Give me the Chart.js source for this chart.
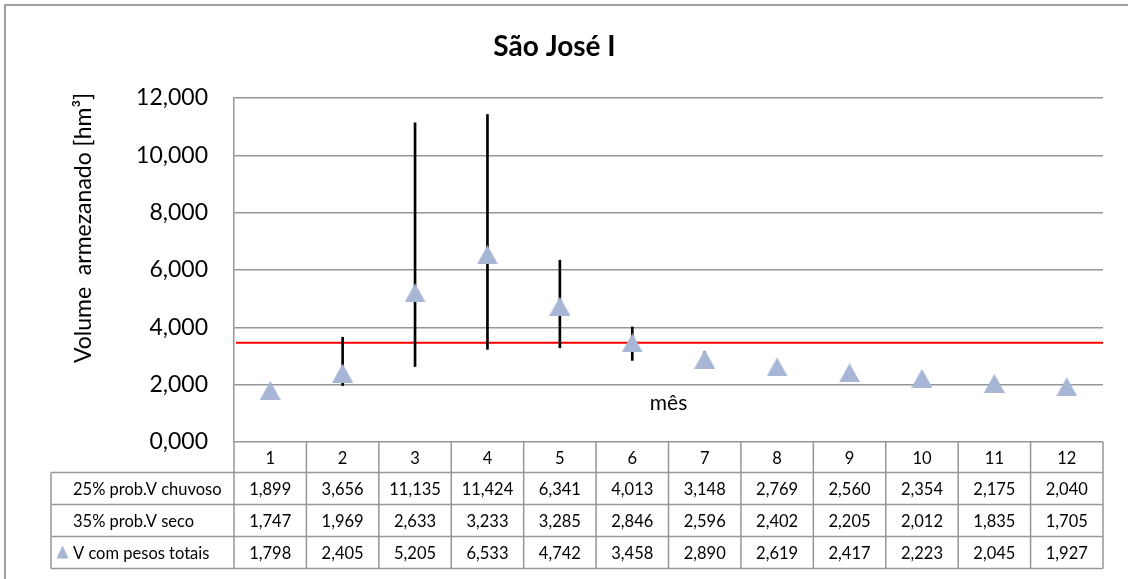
<!doctype html>
<head>
<style>
* {
    box-sizing: border-box;
    margin: 0;
    padding: 0;
}
body {
    background: white;
}
#wrap {
    position: relative;
    width: 1128px;
    height: 579px;
}
</style>
</head>
<div id="wrap"><canvas></canvas></div>
<script src="https://cdn.jsdelivr.net/npm/chart.js"></script>
<script>

let meses = ['1', '2', '3', '4', '5', '6', '7', '8', '9', '10', '11', '12']
let chuvoso = [1.899, 3.656, 11.135, 11.424, 6.341, 4.013, 3.148, 2.769, 2.560, 2.354, 2.175, 2.040]
let seco = [1.747, 1.969, 2.633, 3.233, 3.285, 2.846, 2.596, 2.402, 2.205, 2.012, 1.835, 1.705]
let pesos = [1.798, 2.405, 5.205, 6.533, 4.742, 3.458, 2.890, 2.619, 2.417, 2.223, 2.045, 1.927]
let limite = 3.46

let nomes = ['25% prob.V chuvoso', '35% prob.V seco', 'V com pesos totais']
let linhas = [chuvoso, seco, pesos]

let FONT = 'Lato, "Open Sans", sans-serif'
let GRID = '#969696'
let TRI = '#a6b6d4'

function fmt(v) {
    return v.toFixed(3).replace('.', ',')
}

// triangle marker centred on its box, like Excel does
function triangulo(w, h) {
    let c = document.createElement('canvas')
    c.width = w
    c.height = h
    let g = c.getContext('2d')
    g.fillStyle = TRI
    g.beginPath()
    g.moveTo(w / 2, 0)
    g.lineTo(w, h)
    g.lineTo(0, h)
    g.closePath()
    g.fill()
    return c
}

let extras = {
    id: 'extras',
    beforeDatasetsDraw(chart) {
        let {ctx, chartArea: a, scales: {y}} = chart
        let py = y.getPixelForValue(limite)
        ctx.save()
        ctx.strokeStyle = '#ff0000'
        ctx.lineWidth = 2
        ctx.beginPath()
        ctx.moveTo(a.left + 2, py)
        ctx.lineTo(a.right, py)
        ctx.stroke()
        ctx.restore()
    },
    afterDraw(chart) {
        let {ctx, chartArea: a, scales: {x}} = chart
        ctx.save()

        // outer border (cropped on right and bottom)
        ctx.strokeStyle = '#a0a0a0'
        ctx.lineWidth = 2
        ctx.beginPath()
        ctx.moveTo(5, chart.height)
        ctx.lineTo(5, 5)
        ctx.lineTo(chart.width, 5)
        ctx.stroke()

        // y title
        ctx.fillStyle = '#000'
        ctx.font = '23px ' + FONT
        ctx.textAlign = 'center'
        ctx.textBaseline = 'middle'
        ctx.save()
        ctx.translate(84, 228)
        ctx.rotate(-Math.PI / 2)
        ctx.fillText('Volume  armezanado [hm³]', 0, 0)
        ctx.restore()

        // x title
        ctx.font = '21px ' + FONT
        ctx.fillText('mês', (a.left + a.right) / 2, a.bottom - 39)

        // data table
        let step = (a.right - a.left) / meses.length
        let hdr = 30.5
        let rh = 32
        let top = a.bottom
        let labelLeft = 51
        ctx.strokeStyle = GRID
        ctx.lineWidth = 1.5
        ctx.beginPath()
        for (let i = 0; i <= meses.length; i++) {
            let px = a.left + i * step
            ctx.moveTo(px, top)
            ctx.lineTo(px, top + hdr + 3 * rh)
        }
        for (let r = 0; r <= 3; r++) {
            let py = top + hdr + r * rh
            ctx.moveTo(labelLeft, py)
            ctx.lineTo(a.right, py)
        }
        ctx.moveTo(labelLeft, top + hdr)
        ctx.lineTo(labelLeft, top + hdr + 3 * rh)
        ctx.stroke()

        ctx.font = '16.5px ' + FONT
        ctx.fillStyle = '#000'
        ctx.textAlign = 'center'
        meses.forEach((m, i) => {
            let cx = x.getPixelForValue(i)
            ctx.fillText(m, cx, top + hdr / 2 + 1)
            linhas.forEach((serie, r) => {
                ctx.fillText(fmt(serie[i]), cx, top + hdr + r * rh + rh / 2 + 1)
            })
        })
        ctx.textAlign = 'left'
        nomes.forEach((n, r) => {
            ctx.fillText(n, 73, top + hdr + r * rh + rh / 2 + 1)
        })
        // legend key
        let ky = top + hdr + 2 * rh + rh / 2
        ctx.fillStyle = TRI
        ctx.beginPath()
        ctx.moveTo(62.5, ky - 7)
        ctx.lineTo(68.5, ky + 6)
        ctx.lineTo(56.5, ky + 6)
        ctx.closePath()
        ctx.fill()

        ctx.restore()
    },
}

new Chart(document.querySelector('canvas'), {
    type: 'bar',
    data: {
        labels: meses,
        datasets: [
            {
                type: 'line',
                label: 'V com pesos totais',
                data: pesos,
                showLine: false,
                pointStyle: triangulo(21, 19),
                pointRadius: 10,
                order: 0,
            },
            {
                label: 'faixa',
                data: meses.map((m, i) => [seco[i], chuvoso[i]]),
                backgroundColor: '#000',
                barThickness: 2,
                order: 1,
            },
        ],
    },
    options: {
        responsive: true,
        maintainAspectRatio: false,
        animation: false,
        layout: {
            padding: {top: 0, left: 6, right: 25, bottom: 137},
        },
        scales: {
            x: {
                display: false,
            },
            y: {
                min: 0,
                max: 12,
                ticks: {
                    stepSize: 2,
                    padding: 26,
                    color: '#000',
                    font: {family: FONT, size: 23},
                    callback: v => fmt(v),
                },
                grid: {
                    color: GRID,
                    lineWidth: 1.5,
                    drawTicks: false,
                },
                border: {
                    color: GRID,
                    width: 1.5,
                },
                afterFit(s) {
                    s.width = 228
                },
            },
        },
        plugins: {
            legend: {display: false},
            tooltip: {enabled: false},
            title: {
                display: true,
                text: 'São José I',
                color: '#000',
                font: {family: FONT, size: 28, weight: 'bold', lineHeight: 1.2},
                padding: {top: 30, bottom: 34.4},
            },
        },
    },
    plugins: [extras],
})

</script>
